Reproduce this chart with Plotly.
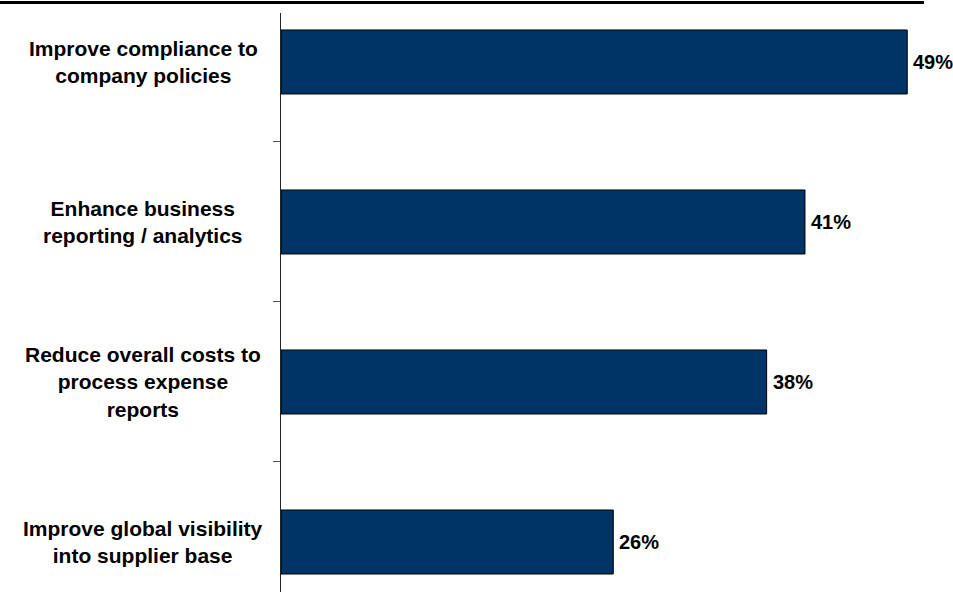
import plotly.graph_objects as go

categories = [
    "Improve compliance to<br>company policies",
    "Enhance business<br>reporting / analytics",
    "Reduce overall costs to<br>process expense<br>reports",
    "Improve global visibility<br>into supplier base",
]
values = [49, 41, 38, 26]
value_labels = ["49%", "41%", "38%", "26%"]

W, H = 953, 592
ML, MR, MT, MB = 281, 0, 13, 0
pw = W - ML - MR
ph = H - MT - MB

FONT = "Liberation Sans, Arial, sans-serif"
BAR = "#003366"

fig = go.Figure()
fig.add_trace(go.Bar(
    y=categories,
    x=values,
    orientation="h",
    width=0.4,
    marker=dict(color=BAR, line=dict(color="#000000", width=1)),
    hoverinfo="skip",
))

for c in categories:
    fig.add_annotation(
        x=(143 - ML) / pw, xref="paper", y=c, yref="y",
        text=c, showarrow=False, align="center",
        xanchor="center", yanchor="middle",
        font=dict(family=FONT, size=21, color="#000000", weight="bold"),
    )

for c, v, t in zip(categories, values, value_labels):
    fig.add_annotation(
        x=v, xref="x", y=c, yref="y",
        text=t, showarrow=False, xanchor="left", yanchor="middle",
        xshift=4,
        font=dict(family=FONT, size=20, color="#000000", weight="bold"),
    )

# top rule
fig.add_shape(type="line", xref="paper", yref="paper",
              x0=-ML / pw, x1=(924 - ML) / pw,
              y0=1 + (MT - 2.5) / ph, y1=1 + (MT - 2.5) / ph,
              line=dict(color="#000000", width=3))

fig.update_layout(
    width=W, height=H,
    margin=dict(l=ML, r=MR, t=MT, b=MB, pad=0),
    plot_bgcolor="white", paper_bgcolor="white",
    showlegend=False,
    xaxis=dict(range=[0, pw / 12.78], visible=False, showgrid=False, zeroline=False),
    yaxis=dict(
        type="category",
        categoryorder="array", categoryarray=categories,
        range=[3.3125, -0.306],
        showline=True, linecolor="#222222", linewidth=1,
        ticks="outside", tickson="boundaries", ticklen=7,
        tickcolor="#555555", tickwidth=1,
        showticklabels=False, showgrid=False, zeroline=False,
    ),
)

fig.write_html(
    "out.html",
    config={"displayModeBar": False},
    post_script="document.body.style.margin='0';document.body.style.overflow='hidden';",
)
